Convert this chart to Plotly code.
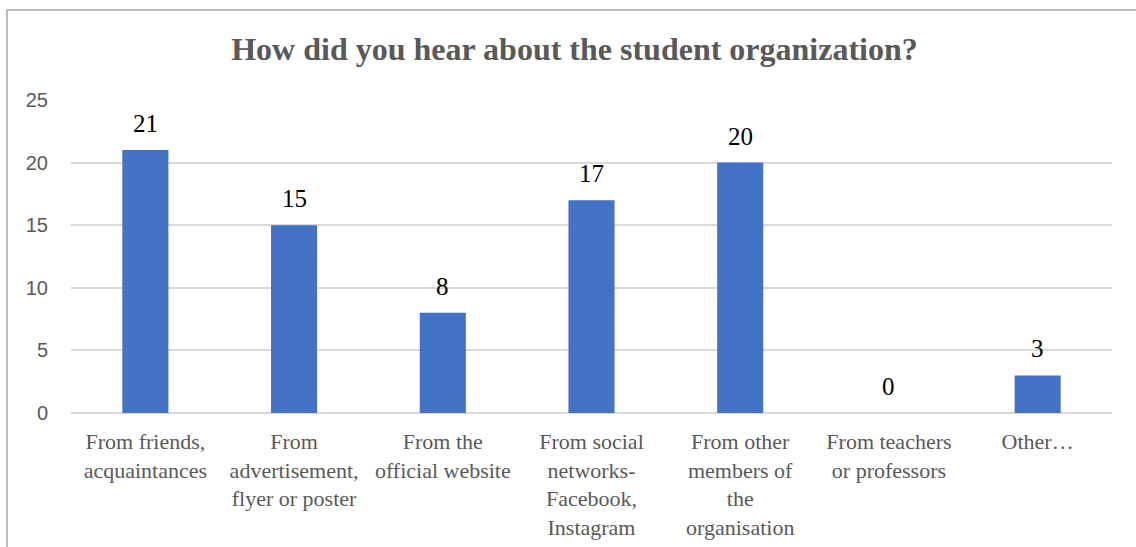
import plotly.graph_objects as go

# Survey responses: how students heard about the organization
categories = [
    "From friends,<br>acquaintances",
    "From<br>advertisement,<br>flyer or poster",
    "From the<br>official website",
    "From social<br>networks-<br>Facebook,<br>Instagram",
    "From other<br>members of<br>the<br>organisation",
    "From teachers<br>or professors",
    "Other…",
]
counts = [21, 15, 8, 17, 20, 0, 3]
y_ticks = [0, 5, 10, 15, 20, 25]

title_text = "How did you hear about the student organization?"

W, H = 1136, 547
plot_left, plot_right = 71, 1112
plot_top, plot_bottom = 100, 413

GREY_TEXT = "#595959"
SERIF = "Liberation Serif"
SANS = "Liberation Sans"

fig = go.Figure()
fig.add_trace(
    go.Bar(
        x=categories,
        y=counts,
        marker=dict(color="#4472C4", line=dict(width=0)),
        width=0.31,
        hoverinfo="x+y",
    )
)

# value labels above each bar
for cat, val in zip(categories, counts):
    fig.add_annotation(
        x=cat, y=val, text=str(val), showarrow=False,
        yanchor="bottom", yshift=11,
        font=dict(family=SERIF, size=25, color="#000000"),
    )

pw = plot_right - plot_left
ph = plot_bottom - plot_top
# outer chart frame (extends past the page on the right and bottom)
fig.add_shape(
    type="rect", xref="paper", yref="paper",
    x0=(7 - plot_left) / pw, x1=(W + 5 - plot_left) / pw,
    y0=(plot_bottom - (H + 5)) / ph, y1=(plot_bottom - 10) / ph,
    line=dict(color="#a6a6a6", width=1.5), fillcolor="rgba(0,0,0,0)",
    layer="below",
)

fig.update_layout(
    width=W, height=H,
    margin=dict(l=plot_left, r=W - plot_right, t=plot_top, b=H - plot_bottom, pad=0),
    paper_bgcolor="white", plot_bgcolor="white",
    showlegend=False,
    title=dict(
        text=f"<b>{title_text}</b>",
        x=574.5 / W, xanchor="center", xref="container",
        y=1 - 49 / H, yanchor="middle", yref="container",
        font=dict(family=SERIF, size=32, color=GREY_TEXT),
    ),
    xaxis=dict(
        type="category",
        showgrid=False, showline=False, zeroline=False, ticks="",
        tickfont=dict(family=SERIF, size=22, color=GREY_TEXT),
        tickangle=0,
        ticklabelstandoff=13,
        automargin=False,
    ),
    yaxis=dict(
        range=[0, 25], tickvals=y_ticks,
        showgrid=True, gridcolor="#d9d9d9", gridwidth=1.5,
        zeroline=True, zerolinecolor="#d9d9d9", zerolinewidth=1.5,
        showline=False, ticks="",
        tickfont=dict(family=SANS, size=20, color=GREY_TEXT),
        ticklabelstandoff=22,
        automargin=False,
    ),
)

fig.write_html("out.html")
